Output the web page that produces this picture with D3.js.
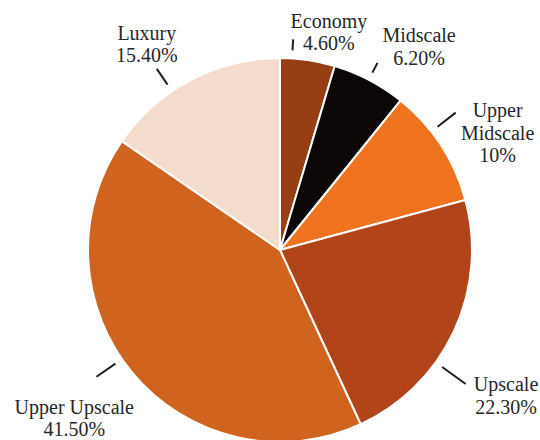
<!DOCTYPE html>
<html>
<head>
<meta charset="utf-8">
<script src="https://cdn.jsdelivr.net/npm/d3@7"></script>
<style>
  html, body { margin: 0; padding: 0; background: #ffffff; }
  svg { display: block; }
  text { font-family: "Liberation Serif", "Times New Roman", serif; font-size: 20px; fill: #262626; }
</style>
</head>
<body>
<svg id="chart" width="540" height="440"></svg>
<script>
// ---- data ----
const categories = ["Economy", "Midscale", "Upper Midscale", "Upscale", "Upper Upscale", "Luxury"];
const shares = [4.6, 6.2, 10, 22.3, 41.5, 15.4];
const shareLabels = ["4.60%", "6.20%", "10%", "22.30%", "41.50%", "15.40%"];
const labelLines = [["Economy"], ["Midscale"], ["Upper", "Midscale"], ["Upscale"], ["Upper Upscale"], ["Luxury"]];
const colors = ["#963f15", "#0b0706", "#ef731f", "#b2441a", "#d0641e", "#f3dccb"];

// ---- layout (label nudges relative to slice mid-angle, degrees / px) ----
const tickShift = [-4.7, -0.2, -4.9, 10.8, 5.5, -6.5];
const tickOuter = [211, 211, 223, 229, 223, 219];
const textShift = [4.4, 6.7, 4.9, 7.8, 0.8, -5.2];
const textRadius = [223, 246, 247, 269, 266, 245];

const W = 540, H = 440;
const cx = 280, cy = 250, R = 192, tickInner = 200;
const lineH = 22.5, capH = 13.2;

const svg = d3.select("#chart");
const g = svg.append("g").attr("transform", `translate(${cx},${cy})`);

const pie = d3.pie().value(d => d).sort(null);
const arcs = pie(shares);
const arc = d3.arc().innerRadius(0).outerRadius(R);

g.selectAll("path.slice")
  .data(arcs)
  .join("path")
  .attr("class", "slice")
  .attr("d", arc)
  .attr("fill", (d, i) => colors[i])
  .attr("stroke", "#ffffff")
  .attr("stroke-width", 2)
  .attr("stroke-linejoin", "round");

const polar = (deg, r) => {
  const a = deg * Math.PI / 180;
  return [r * Math.sin(a), -r * Math.cos(a)];
};
const midDeg = d => ((d.startAngle + d.endAngle) / 2) * 180 / Math.PI;

// ticks
g.selectAll("line.tick")
  .data(arcs)
  .join("line")
  .attr("class", "tick")
  .each(function (d, i) {
    const ang = midDeg(d) + tickShift[i];
    const p1 = polar(ang, tickInner), p2 = polar(ang, tickOuter[i]);
    d3.select(this).attr("x1", p1[0]).attr("y1", p1[1]).attr("x2", p2[0]).attr("y2", p2[1]);
  })
  .attr("stroke", "#1e1e1e")
  .attr("stroke-width", 2);

// labels
g.selectAll("text.lbl")
  .data(arcs)
  .join("text")
  .attr("class", "lbl")
  .attr("text-anchor", "middle")
  .each(function (d, i) {
    const ang = midDeg(d) + textShift[i];
    const [x, y] = polar(ang, textRadius[i]);
    const lines = labelLines[i].concat([shareLabels[i]]);
    const blockH = capH + (lines.length - 1) * lineH;
    const y0 = y - blockH / 2 + capH;
    const t = d3.select(this);
    lines.forEach((s, k) => {
      t.append("tspan").attr("x", x).attr("y", y0 + k * lineH).text(s);
    });
  });
</script>
</body>
</html>
